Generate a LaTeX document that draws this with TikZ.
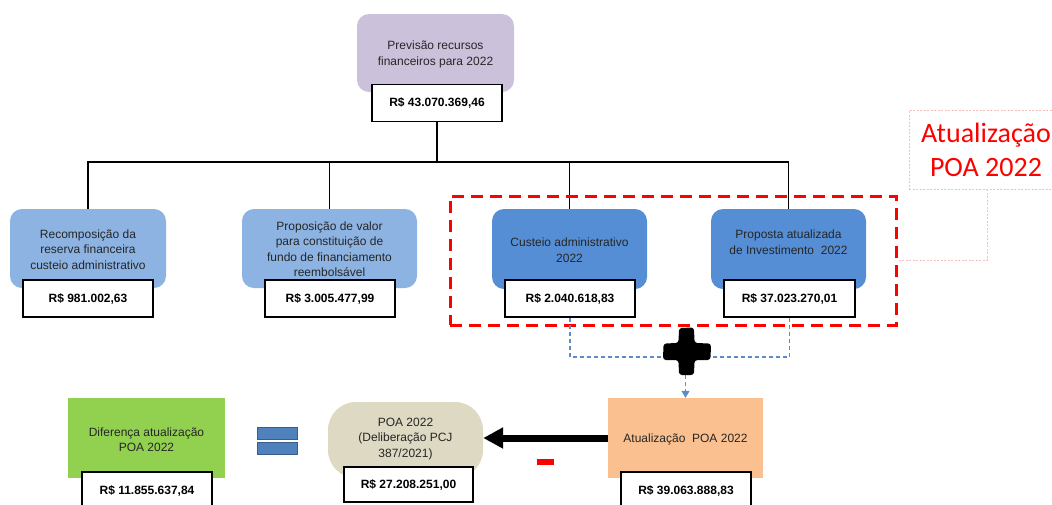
\documentclass[tikz,border=0pt]{standalone}
\usepackage{fontspec}
\setmainfont{Liberation Sans}
\newfontfamily\calib{Carlito}
\usetikzlibrary{arrows.meta}
\definecolor{purp}{HTML}{CCC1DA}
\definecolor{lblue}{HTML}{8DB3E2}
\definecolor{mblue}{HTML}{558ED5}
\definecolor{grn}{HTML}{92D050}
\definecolor{orng}{HTML}{FAC090}
\definecolor{beige}{HTML}{DDD9C3}
\definecolor{eqfill}{HTML}{4F81BD}
\definecolor{eqdraw}{HTML}{385D8A}
\definecolor{dashblue}{HTML}{5B8BC9}
\definecolor{pinkdot}{HTML}{F6BFBF}
\definecolor{txtgray}{HTML}{262626}
\begin{document}
\begin{tikzpicture}[x=1pt,y=-1pt,
  card/.style={rounded corners=12pt, inner sep=0pt},
  flat/.style={inner sep=0pt},
  valbox/.style={draw=black, line width=1.6pt, fill=white, minimum width=130pt, minimum height=37pt, inner sep=0pt, font=\bfseries\fontsize{12}{14}\selectfont},
  txt/.style={align=center, font=\fontsize{12}{15.5}\selectfont, text=txtgray, inner sep=0pt},
  conn/.style={draw=black, line width=1.4pt},
  bdash/.style={draw=dashblue, line width=1.1pt, dash pattern=on 4pt off 3pt}
]
\useasboundingbox (0,0) rectangle (1052,504);
\clip (0,0) rectangle (1052,504);

% top
\node[card, fill=purp, minimum width=157pt, minimum height=78pt] (top) at (435.5,53) {};
\node[txt] (toptxt) at (435.5,54.5) {Previsão recursos\\financeiros para 2022};
\node[valbox] (topv) at (437,103) {R\$ 43.070.369,46};

% second row
\node[card, fill=lblue, minimum width=156pt, minimum height=79pt] (n1) at (88,248.5) {};
\node[txt] (t1) at (88,249.5) {Recomposição da\\reserva financeira\\custeio administrativo};
\node[valbox] (v1) at (88,298.5) {R\$ 981.002,63};

\node[card, fill=lblue, minimum width=175pt, minimum height=79pt] (n2) at (329.5,248.5) {};
\node[txt] (t2) at (329.5,249) {Proposição de valor\\para constituição de\\fundo de financiamento\\reembolsável};
\node[valbox] (v2) at (330,298.5) {R\$ 3.005.477,99};

\node[card, fill=mblue, minimum width=155pt, minimum height=80pt] (n3) at (569.5,249) {};
\node[txt] (t3) at (569.5,250) {Custeio administrativo\\2022};
\node[valbox] (v3) at (570,298.5) {R\$ 2.040.618,83};

\node[card, fill=mblue, minimum width=155pt, minimum height=80pt] (n4) at (788.5,249) {};
\node[txt] (t4) at (788.5,242) {Proposta atualizada\\de Investimento\ \ 2022};
\node[valbox, minimum width=131pt] (v4) at (789.5,298.5) {R\$ 37.023.270,01};

% tree connectors
\coordinate (bus) at (436,162);
\draw[conn] (topv.south) -- (topv.south |- bus);
\draw[conn] (n1.north) -- (n1.north |- bus) -- (n4.north |- bus) -- (n4.north);
\draw[conn] (n2.north) -- (n2.north |- bus);
\draw[conn] (n3.north) -- (n3.north |- bus);

% red dashed group and callout
\node[draw=red, line width=3pt, dash pattern=on 12pt off 7pt, minimum width=446pt, minimum height=129pt, inner sep=0pt] (atbox) at (673,260.5) {};
\node[draw=pinkdot, line width=0.8pt, dash pattern=on 2pt off 1.5pt, minimum width=156pt, minimum height=79pt, inner sep=0pt] (callout) at (987,149.5) {};
\node[align=center, text=red, font=\calib\fontsize{28}{34}\selectfont, inner sep=0pt] (callouttxt) at (986,150) {Atualização\\POA 2022};
\draw[draw=pinkdot, line width=0.8pt, dash pattern=on 2pt off 1.5pt] (callout.south) |- (atbox.east);

% bottom row
\node[flat, fill=orng, minimum width=155pt, minimum height=80pt] (orange) at (685.5,438) {};
\node[txt] (to) at (685.5,439) {Atualização\ \ POA 2022};
\node[valbox] (vo) at (686,490.5) {R\$ 39.063.888,83};

\node[flat, fill=grn, minimum width=157pt, minimum height=80pt] (green) at (146.5,438) {};
\node[txt] (tg) at (146.5,439.5) {Diferença atualização\\POA 2022};
\node[valbox] (vg) at (147,490.5) {R\$ 11.855.637,84};

\node[fill=beige, rounded corners=28pt, minimum width=155pt, minimum height=76pt, inner sep=0pt] (poa) at (405.5,440) {};
\node[txt] (tp) at (405.5,439) {POA 2022\\(Deliberação PCJ\\387/2021)};
\node[valbox, minimum width=129pt, minimum height=35pt] (vp) at (408.5,484.5) {R\$ 27.208.251,00};

% plus sign and blue dashed connectors
\node[minimum width=48pt, minimum height=47pt, inner sep=0pt] (plus) at (687,351.5) {};
\draw[bdash] (v3.south) |- ([yshift=-5.5pt]plus.west);
\draw[bdash] (v4.south) |- ([yshift=-5.5pt]plus.east);
\draw[bdash, -{Triangle[length=7pt,width=8pt]}] ([xshift=-1.5pt]plus.south) -- ([xshift=-1.5pt]plus.south |- orange.north);
\fill[black, rounded corners=3pt, shift={(plus)}] (-8,-23.5) -- (7,-24) -- (7.5,-8.5) -- (24,-8) -- (23.5,8.5) -- (7.5,8.5) -- (7,23.5) -- (-8,23.5) -- (-8.5,8.5) -- (-24,8.5) -- (-23.5,-8) -- (-8.5,-8.5) -- cycle;

% minus arrow
\draw[line width=7pt, -{Triangle[length=20pt,width=20pt]}] (orange.west) -- (orange.west -| poa.east);
\node[fill=red, minimum width=17pt, minimum height=6pt, inner sep=0pt] (minus) at (545.5,462) {};

% equals sign
\node[fill=eqfill, draw=eqdraw, line width=0.8pt, minimum width=40pt, minimum height=12pt, inner sep=0pt] (eq1) at (277,433) {};
\node[fill=eqfill, draw=eqdraw, line width=0.8pt, minimum width=40pt, minimum height=12pt, inner sep=0pt] (eq2) at (277,448.5) {};
\end{tikzpicture}
\end{document}
